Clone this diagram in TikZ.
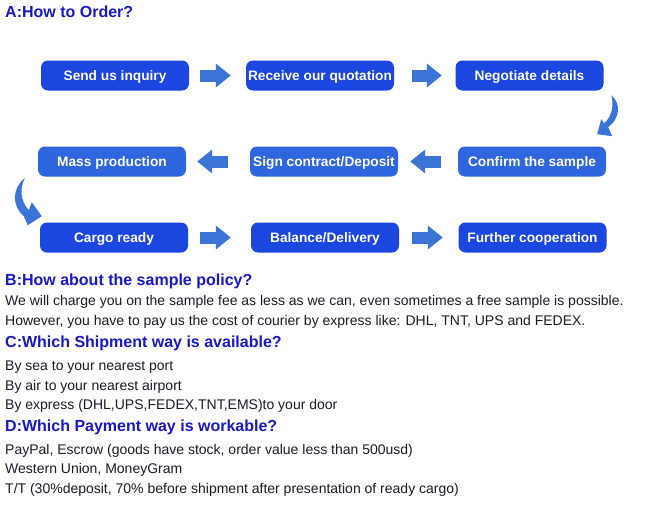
\documentclass[tikz,border=0pt]{standalone}
\usepackage{fontspec}
\setmainfont{Liberation Sans}
\usetikzlibrary{arrows.meta}
\definecolor{boxblueA}{HTML}{1B46E0}
\definecolor{boxblueB}{HTML}{2E66DE}
\definecolor{arrowblue}{HTML}{3A74D6}
\definecolor{headblue}{HTML}{1818C4}
\definecolor{bodytext}{HTML}{1A1A28}
\tikzset{stepbox/.style={rounded corners=7pt,minimum width=148pt,minimum height=30pt,inner sep=0pt,text height=9.8pt,text depth=0pt,text=white,font=\bfseries\fontsize{13.7}{16}\selectfont},
  blockarrow/.style 2 args={draw=arrowblue,line width=12pt,-{Triangle[width=23pt,length=15pt]},shorten <=#1pt,shorten >=#2pt},
  heading/.style={anchor=base west,inner sep=0pt,text=headblue,font=\bfseries\fontsize{16}{18}\selectfont},
  bodyline/.style={anchor=base west,inner sep=0pt,text=bodytext,font=\fontsize{14}{16}\selectfont}}

\begin{document}
\begin{tikzpicture}[x=1pt,y=-1pt]
	\useasboundingbox (0,0) rectangle (654,515);
	\fill[white] (0,0) rectangle (654,515);

	\node[heading] (qa) at (5,17) {A:How to Order?};

	\node[stepbox,fill=boxblueA] (inquiry) at (115,75.5) {Send us inquiry};
	\node[stepbox,fill=boxblueA] (quote) at (320,75.5) {Receive our quotation};
	\node[stepbox,fill=boxblueA] (negotiate) at (529.5,75.5) {Negotiate details};
	\node[stepbox,fill=boxblueB] (mass) at (112,161.5) {Mass production};
	\node[stepbox,fill=boxblueB] (contract) at (324,161.5) {Sign contract/Deposit};
	\node[stepbox,fill=boxblueB] (confirm) at (532,161.5) {Confirm the sample};
	\node[stepbox,fill=boxblueA] (cargo) at (114,237.5) {Cargo ready};
	\node[stepbox,fill=boxblueA] (balance) at (325,237.5) {Balance/Delivery};
	\node[stepbox,fill=boxblueA] (further) at (532.5,237.5) {Further cooperation};

	\draw[blockarrow={11}{15}] (inquiry.east) -- (quote.west);
	\draw[blockarrow={18}{13.5}] (quote.east) -- (negotiate.west);
	\draw[blockarrow={17}{12}] (confirm.west) -- (contract.east);
	\draw[blockarrow={22}{11}] (contract.west) -- (mass.east);
	\draw[blockarrow={12}{20}] (cargo.east) -- (balance.west);
	\draw[blockarrow={13}{15.5}] (balance.east) -- (further.west);

	\begin{scope}[shift={(negotiate.south east)}]
		\fill[arrowblue] (7.5,4.5) .. controls (17.5,12.5) and (16.5,27.5) .. (4.5,36.5)
			-- (8.5,45.5) -- (-6.5,43.5) -- (-2.5,28.5) -- (0.5,32.5)
			.. controls (8.5,25.5) and (10.5,13.5) .. cycle;
	\end{scope}
	\begin{scope}[shift={(mass.south west)}]
		\fill[arrowblue] (-13,1.5) .. controls (-26,11.5) and (-26,29.5) .. (-14,39.5)
			-- (-10,48.5) -- (4,39.5) -- (-6,25.5) -- (-9,33.5)
			.. controls (-18,23.5) and (-18,11.5) .. cycle;
	\end{scope}

	\node[heading] (qb) at (5,285) {B:How about the sample policy?};
	\node[bodyline] (b1) at (5,305) {We will charge you on the sample fee as less as we can, even sometimes a free sample is possible.};
	\node[bodyline] (b2) at (5,325) {However, you have to pay us the cost of courier by express like: DHL, TNT, UPS and FEDEX.};
	\node[heading] (qc) at (5,347) {C:Which Shipment way is available?};
	\node[bodyline] (c1) at (5,370) {By sea to your nearest port};
	\node[bodyline] (c2) at (5,390) {By air to your nearest airport};
	\node[bodyline] (c3) at (5,409) {By express (DHL,UPS,FEDEX,TNT,EMS)to your door};
	\node[heading] (qd) at (5,431.5) {D:Which Payment way is workable?};
	\node[bodyline] (d1) at (5,454) {PayPal, Escrow (goods have stock, order value less than 500usd)};
	\node[bodyline] (d2) at (5,473) {Western Union, MoneyGram};
	\node[bodyline] (d3) at (5,493) {T/T (30\%deposit, 70\% before shipment after presentation of ready cargo)};
\end{tikzpicture}
\end{document}
